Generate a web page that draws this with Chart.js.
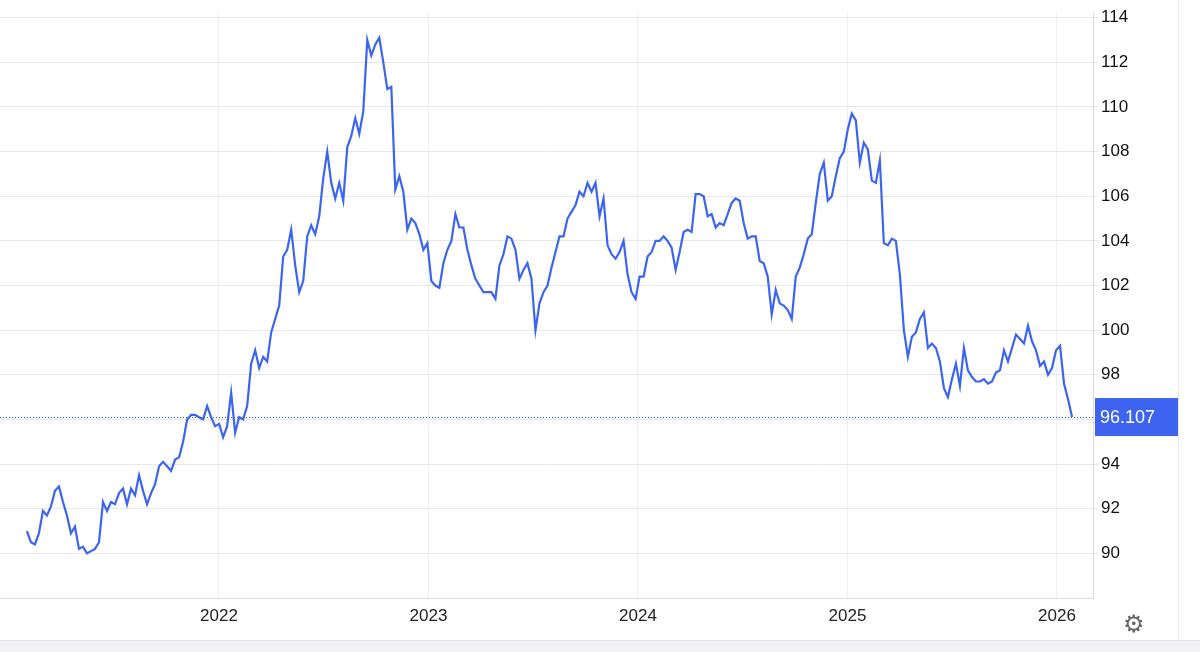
<!DOCTYPE html>
<html><head><meta charset="utf-8">
<script src="https://cdn.jsdelivr.net/npm/chart.js@4"></script>
<style>
html,body{margin:0;padding:0;background:#fff;overflow:hidden}
#wrap{position:absolute;left:0;top:0;width:1200px;height:640px}
#strip{position:absolute;left:0;top:640px;width:1200px;height:12px;background:#f2f2f4;border-top:1px solid #e2e2e6}
#rb{position:absolute;left:1178px;top:0;width:1px;height:640px;background:#e8e8ea}
#gear{position:absolute;left:1123px;top:610px;font:24px "DejaVu Sans";color:#666}
</style></head><body>
<div id="wrap"><canvas id="c"></canvas></div>
<div id="rb"></div>
<div id="strip"></div>
<div id="gear">⚙</div>
<script>
const startYear = 2021.0835;
const endYear = 2026.072;
const values = [91.0,90.5,90.4,90.9,91.9,91.7,92.1,92.8,93.0,92.3,91.7,90.9,91.2,90.2,90.3,90.0,90.1,90.2,90.5,92.3,91.9,92.3,92.2,92.7,92.9,92.2,92.9,92.6,93.5,92.8,92.2,92.7,93.1,93.9,94.1,93.9,93.7,94.2,94.3,95.0,96.0,96.2,96.2,96.1,96.0,96.6,96.1,95.7,95.8,95.2,95.7,97.2,95.4,96.1,96.0,96.6,98.5,99.1,98.3,98.8,98.6,99.9,100.5,101.1,103.3,103.6,104.5,102.9,101.7,102.2,104.2,104.7,104.3,105.1,106.8,108.0,106.6,105.9,106.6,105.8,108.2,108.7,109.5,108.8,109.8,113.0,112.3,112.8,113.1,112.0,110.8,110.9,106.3,106.9,106.2,104.5,105.0,104.8,104.3,103.6,103.9,102.2,102.0,101.9,103.0,103.6,104.0,105.2,104.6,104.6,103.6,102.9,102.3,102.0,101.7,101.7,101.7,101.4,102.9,103.4,104.2,104.1,103.6,102.3,102.7,103.0,102.3,100.0,101.2,101.7,102.0,102.8,103.5,104.2,104.2,105.0,105.3,105.6,106.2,106.0,106.6,106.2,106.6,105.1,105.9,103.8,103.4,103.2,103.5,104.0,102.5,101.7,101.4,102.4,102.4,103.3,103.5,104.0,104.0,104.2,104.0,103.7,102.7,103.5,104.4,104.5,104.4,106.1,106.1,106.0,105.1,105.2,104.6,104.8,104.7,105.2,105.7,105.9,105.8,104.8,104.1,104.2,104.2,103.1,103.0,102.4,100.7,101.8,101.2,101.1,100.9,100.5,102.4,102.8,103.4,104.1,104.3,105.7,107.0,107.5,105.8,106.0,106.9,107.7,108.0,109.0,109.7,109.4,107.5,108.4,108.1,106.7,106.6,107.6,103.9,103.8,104.1,104.0,102.5,100.0,98.8,99.7,99.9,100.5,100.8,99.2,99.4,99.2,98.6,97.4,97.0,97.8,98.5,97.5,99.2,98.2,97.9,97.7,97.7,97.8,97.6,97.7,98.1,98.2,99.1,98.6,99.2,99.8,99.6,99.4,100.2,99.5,99.1,98.4,98.6,98.0,98.3,99.1,99.3,97.6,96.9,96.107];
const yTicks = [90,92,94,96,98,100,102,104,106,108,110,112,114];
const xTicks = [2022,2023,2024,2025,2026];
const lastValue = values[values.length-1];
const step = (endYear-startYear)/(values.length-1);
const pts = values.map((v,i)=>({x:startYear+i*step,y:v}));

const lastTag = {
  id:'lastTag',
  afterDatasetsDraw(chart){
    const {ctx, chartArea:a, scales:{y}} = chart;
    const py = y.getPixelForValue(lastValue);
    ctx.save();
    ctx.strokeStyle='#2e55e8';ctx.lineWidth=1;ctx.setLineDash([1,2]);
    ctx.beginPath();ctx.moveTo(a.left,Math.round(py)+0.5);ctx.lineTo(a.right,Math.round(py)+0.5);ctx.stroke();
    ctx.setLineDash([]);
    ctx.fillStyle='#3d63f0';ctx.fillRect(a.right+2,py-19,84,38);
    ctx.fillStyle='#fff';ctx.font='18px "Liberation Sans", Arial';ctx.textBaseline='middle';
    ctx.fillText(lastValue.toFixed(3),a.right+7,py+1);
    ctx.restore();
  }
};

new Chart(document.getElementById('c'),{
  type:'line',
  data:{datasets:[{data:pts,borderColor:'#3b64f4',borderWidth:2.2,pointRadius:0,tension:0,fill:false}]},
  options:{
    responsive:true,maintainAspectRatio:false,animation:false,
    layout:{padding:{left:0,right:0,top:0,bottom:0}},
    plugins:{legend:{display:false},tooltip:{enabled:false}},
    scales:{
      x:{type:'linear',min:2020.955,max:2026.172,
        afterBuildTicks(s){s.ticks=xTicks.map(v=>({value:v}));},
        afterFit(s){s.height=42;},
        ticks:{color:'#222',font:{size:17,family:'"Liberation Sans", Arial'},padding:8,callback:v=>String(v),maxRotation:0},
        grid:{color:'#eef1f4',drawTicks:false},border:{color:'#dcdcdc'}},
      y:{position:'right',min:88,max:114.2,
        afterBuildTicks(s){s.ticks=yTicks.map(v=>({value:v}));},
        afterFit(s){s.width=107;},
        ticks:{color:'#111',font:{size:17,family:'"Liberation Sans", Arial'},padding:3},
        grid:{color:'#e8e8e8',drawTicks:true,tickLength:5},border:{color:'#dcdcdc'}}
    }
  },
  plugins:[lastTag]
});
</script></body></html>
